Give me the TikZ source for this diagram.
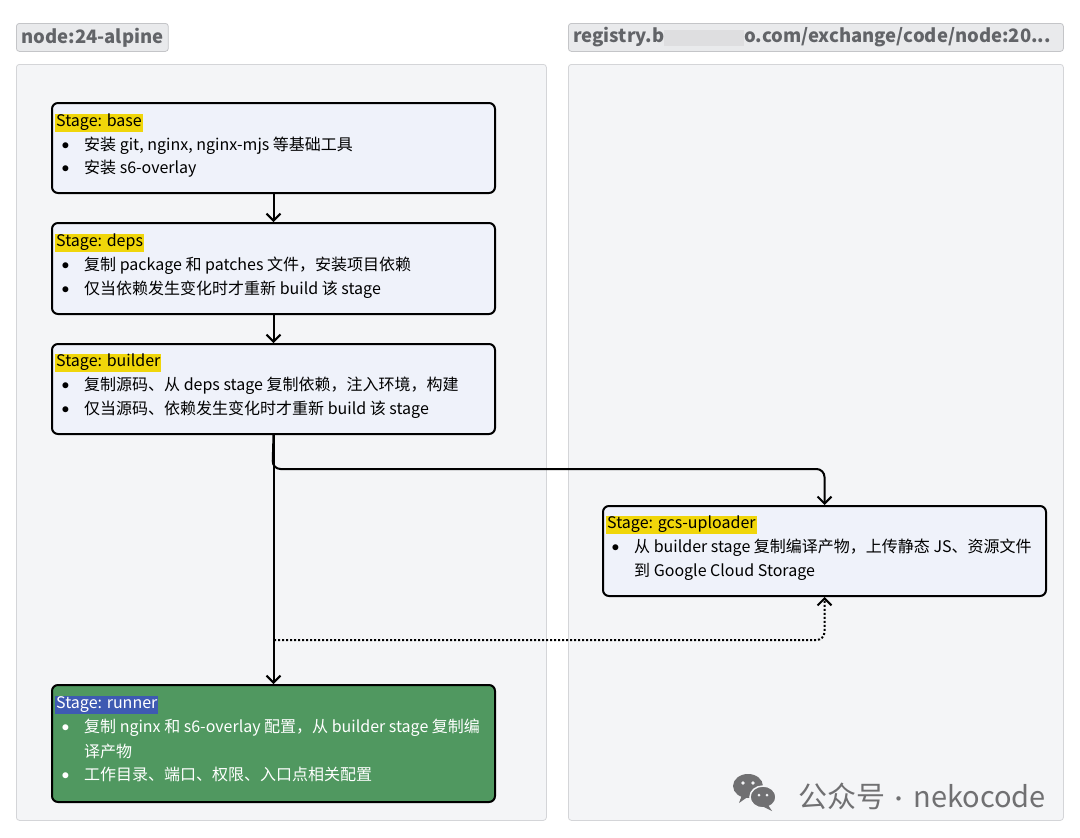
\documentclass[tikz,border=0pt]{standalone}
\usepackage{fontspec}
\setmainfont{Noto Sans CJK SC}
\newfontfamily\dotfont{Lato}
\usetikzlibrary{arrows.meta,positioning}
\definecolor{panelfill}{RGB}{244,245,247}
\definecolor{panelline}{RGB}{212,213,216}
\definecolor{tagfill}{RGB}{233,234,236}
\definecolor{tagline}{RGB}{196,197,200}
\definecolor{tagtext}{RGB}{98,100,104}
\definecolor{stagefill}{RGB}{239,242,250}
\definecolor{hiyellow}{RGB}{240,214,10}
\definecolor{hiblue}{RGB}{62,90,178}
\definecolor{runnergreen}{RGB}{80,152,96}
\definecolor{blurgray}{RGB}{222,222,224}
\definecolor{markgray}{RGB}{112,112,114}
\tikzset{
  imagebox/.style={draw=panelline, fill=panelfill, line width=0.8pt, rounded corners=3pt, anchor=north west},
  imagetag/.style={draw=tagline, fill=tagfill, line width=0.8pt, rounded corners=3pt, anchor=north west,
    minimum height=28pt, inner xsep=5pt, text=tagtext, font=\fontsize{18.5}{20}\selectfont\bfseries},
  stagebox/.style={draw=black, fill=stagefill, line width=2pt, rounded corners=6pt, anchor=north west,
    minimum width=443pt, minimum height=90pt},
  stagetag/.style={fill=hiyellow, anchor=west, inner sep=1pt, text height=12pt, text depth=4pt,
    yshift=-1.5pt, font=\fontsize{16}{19}\selectfont},
  itemtext/.style={anchor=west, inner sep=0pt, yshift=-2pt, font=\fontsize{16}{19}\selectfont},
  flow/.style={line width=2pt, rounded corners=8pt, -{Straight Barb[length=7pt,width=14pt,line width=2pt]}},
}
\newcommand{\bul}{\llap{{\dotfont •}\hspace{14pt}}}
\begin{document}
\begin{tikzpicture}[x=1pt,y=-1pt]
  \useasboundingbox[fill=white] (0,0) rectangle (1080,838);
  % image groups
  \node[imagetag] (lefttag) at (16,23) {node:24-alpine};
  \node[imagetag, minimum width=495pt, text width=485pt, align=left] (righttag) at (568,23)
    {registry.b{\setlength\fboxsep{0pt}\colorbox{blurgray}{\rule[-3pt]{0pt}{16pt}\hspace{80pt}}}o.com/exchange/code/node:20...};
  \node[imagebox, minimum width=530pt, minimum height=756pt] (leftimg) at (16,64) {};
  \node[imagebox, minimum width=495pt, minimum height=756pt] (rightimg) at (568,64) {};
  % stages
  \node[stagebox] (base) at (51,102) {};
  \node[stagebox, minimum height=91pt] (deps) at (51,222) {};
  \node[stagebox] (builder) at (51,343) {};
  \node[stagebox] (gcs) at (602,505) {};
  \node[stagebox, fill=runnergreen, minimum height=117pt] (runner) at (51,684) {};
  \node[stagetag] (basetag) at (55,121) {Stage: base};
  \node[itemtext] (base1) at (84,144) {\bul 安装 git, nginx, nginx-mjs 等基础工具};
  \node[itemtext] (base2) at (84,167) {\bul 安装 s6-overlay};
  \node[stagetag] (depstag) at (55,241) {Stage: deps};
  \node[itemtext] (deps1) at (84,264) {\bul 复制 package 和 patches 文件，安装项目依赖};
  \node[itemtext] (deps2) at (84,288) {\bul 仅当依赖发生变化时才重新 build 该 stage};
  \node[stagetag] (buildertag) at (55,361) {Stage: builder};
  \node[itemtext] (builder1) at (84,384) {\bul 复制源码、从 deps stage 复制依赖，注入环境，构建};
  \node[itemtext] (builder2) at (84,408) {\bul 仅当源码、依赖发生变化时才重新 build 该 stage};
  \node[stagetag] (gcstag) at (606,523) {Stage: gcs-uploader};
  \node[itemtext] (gcs1) at (634,546) {\bul 从 builder stage 复制编译产物，上传静态 JS、资源文件};
  \node[itemtext] (gcs2) at (634,570) {到 Google Cloud Storage};
  \node[stagetag, fill=hiblue, text=white] (runnertag) at (55,703) {Stage: runner};
  \node[itemtext, text=white] (runner1) at (84,726) {\bul 复制 nginx 和 s6-overlay 配置，从 builder stage 复制编};
  \node[itemtext, text=white] (runner2) at (84,749) {译产物};
  \node[itemtext, text=white] (runner3) at (84,772) {\bul 工作目录、端口、权限、入口点相关配置};
  % connectors
  \coordinate (split) at (272.5,469);
  \coordinate (tap) at (274,640);
  \draw[flow] (base.south) -- (deps.north);
  \draw[flow] (deps.south) -- (builder.north);
  \draw[flow] (builder.south) -- (runner.north);
  \draw[flow] (builder.south) -- (split) -| (gcs.north);
  \draw[flow, dotted] (tap) -| (gcs.south);
  % watermark
  \fill[markgray] (742,795) -- (739,803) -- (749,796) -- cycle;
  \fill[markgray] (748,786) ellipse (15 and 12);
  \fill[markgray, draw=panelfill, line width=1.5pt] (763,797) ellipse (13 and 11);
  \fill[markgray] (768,805) -- (772,811) -- (762,806) -- cycle;
  \fill[panelfill] (743,783) circle (1.8) (753,783) circle (1.8) (759,795) circle (1.5) (767,795) circle (1.5);
  \node[anchor=east, text=markgray, inner sep=0pt, font=\fontsize{29}{31}\selectfont] (mark) at (1046,796)
    {公众号\hspace{9pt}{\dotfont ·}\hspace{11pt}nekocode};
\end{tikzpicture}
\end{document}
